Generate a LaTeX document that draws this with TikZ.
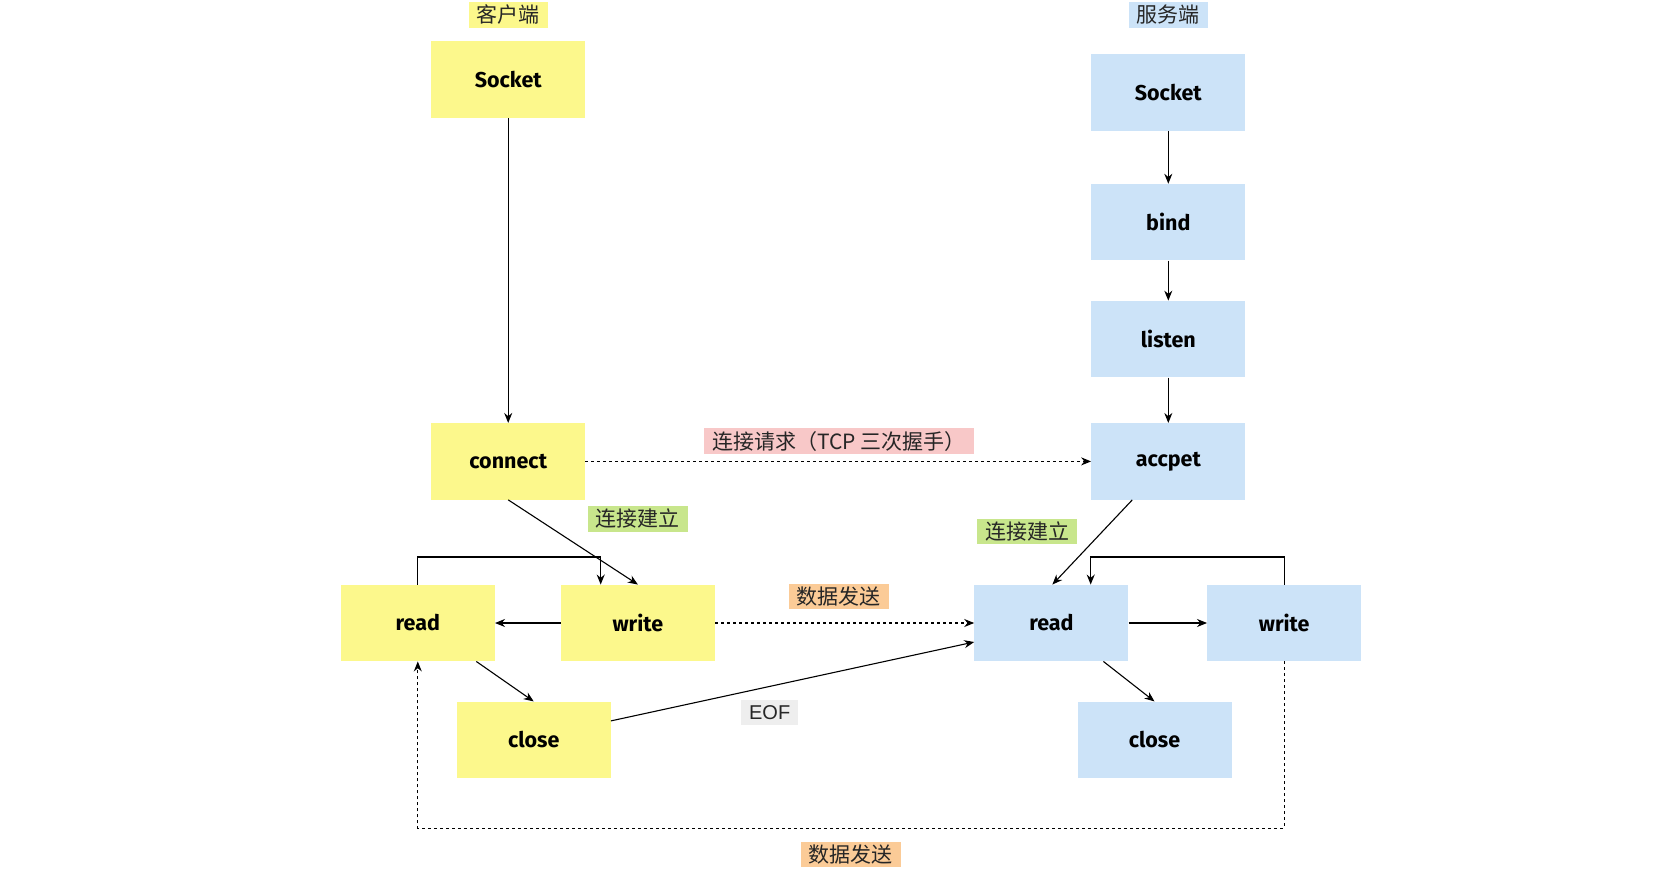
\documentclass[tikz,border=0pt]{standalone}
\usepackage{fontspec}
\setmainfont{Fira Sans}
\newfontfamily\cjk{Noto Sans CJK SC}
\usetikzlibrary{arrows.meta,calc}
\definecolor{yfill}{HTML}{FCF88C}
\definecolor{bfill}{HTML}{CCE3F8}
\definecolor{pfill}{HTML}{F8C8C8}
\definecolor{gfill}{HTML}{C8E68C}
\definecolor{ofill}{HTML}{FBCB97}
\definecolor{efill}{HTML}{EEEEEE}
\tikzset{
  box/.style={minimum width=154pt, minimum height=76.5pt, inner sep=0pt, font=\fontsize{21.5}{25}\selectfont\bfseries},
  ybox/.style={box, fill=yfill},
  bbox/.style={box, fill=bfill},
  tag/.style={font=\cjk\fontsize{21}{24}\selectfont, inner xsep=8pt, inner ysep=1pt, minimum height=25.5pt, text=black!85},
  arr/.style={-{Stealth[length=10pt,width=8pt]}, line width=1.1pt},
  dsh/.style={dash pattern=on 3pt off 3pt},
}
\begin{document}
\begin{tikzpicture}[x=1pt,y=-1pt]
\useasboundingbox (0,0) rectangle (1667,869);
% titles
\node[tag, fill=yfill] (tc) at (508.2,14.9) {客户端};
\node[tag, fill=bfill] (ts) at (1168.3,14.9) {服务端};
% client
\node[ybox] (csock) at (508.2,79.7) {Socket};
\node[ybox] (connect) at (508.2,461.4) {connect};
\node[ybox] (cread) at (417.8,623.0) {read};
\node[ybox] (cwrite) at (637.9,623.0) {write};
\node[ybox] (cclose) at (533.7,739.9) {close};
% server
\node[bbox] (ssock) at (1168.3,92.5) {Socket};
\node[bbox] (bind) at (1168.3,222.2) {bind};
\node[bbox] (listen) at (1168.3,339.1) {listen};
\node[bbox] (accpet) at (1168.3,461.4) {accpet};
\node[bbox] (sread) at (1051.4,623.0) {read};
\node[bbox] (swrite) at (1284.2,623.0) {write};
\node[bbox] (sclose) at (1154.5,739.9) {close};
% labels
\node[tag, fill=pfill] (ltcp) at (838.8,441.2) {连接请求（TCP 三次握手）};
\node[tag, fill=gfill] (lce) at (637.9,518.8) {连接建立};
\node[tag, fill=gfill] (lse) at (1027,531.6) {连接建立};
\node[tag, fill=ofill] (ld1) at (838.8,596.4) {数据发送};
\node[tag, fill=efill, font=\fontsize{20}{23}\selectfont\fontspec{Liberation Sans}] (leof) at (769.7,712.3) {EOF};
\node[tag, fill=ofill] (ld2) at (850.5,854.7) {数据发送};
% connectors
\draw[arr] (csock) -- (connect);
\draw[arr] (ssock) -- (bind);
\draw[arr] (bind) -- (listen);
\draw[arr] (listen) -- (accpet);
\draw[arr, dsh] (connect) -- (accpet);
\draw[arr] (connect.south) -- (cwrite.north);
\coordinate (cl) at (600.7,557);
\draw[arr] (cread.north) |- (cl) -- (cl |- cwrite.north);
\draw[arr] (cwrite) -- (cread);
\draw[arr, dsh] (cwrite) -- (sread);
\draw[arr] ($(cread.south)+(58.5,0)$) -- (cclose.north);
\draw[arr] ($(cclose.east)+(0,-19)$) -- ($(sread.west)+(0,19)$);
\draw[arr] ($(accpet.south)+(-36,0)$) -- ($(sread.north)+(1,0)$);
\coordinate (sl) at (1090.7,557);
\draw[arr] (swrite.north) |- (sl) -- (sl |- sread.north);
\draw[arr] (sread) -- (swrite);
\draw[arr] ($(sread.south)+(52,0)$) -- (sclose.north);
\coordinate (bl) at (417.8,828.2);
\draw[arr, dsh] (swrite.south) |- (bl) -- (cread.south);
\end{tikzpicture}
\end{document}
